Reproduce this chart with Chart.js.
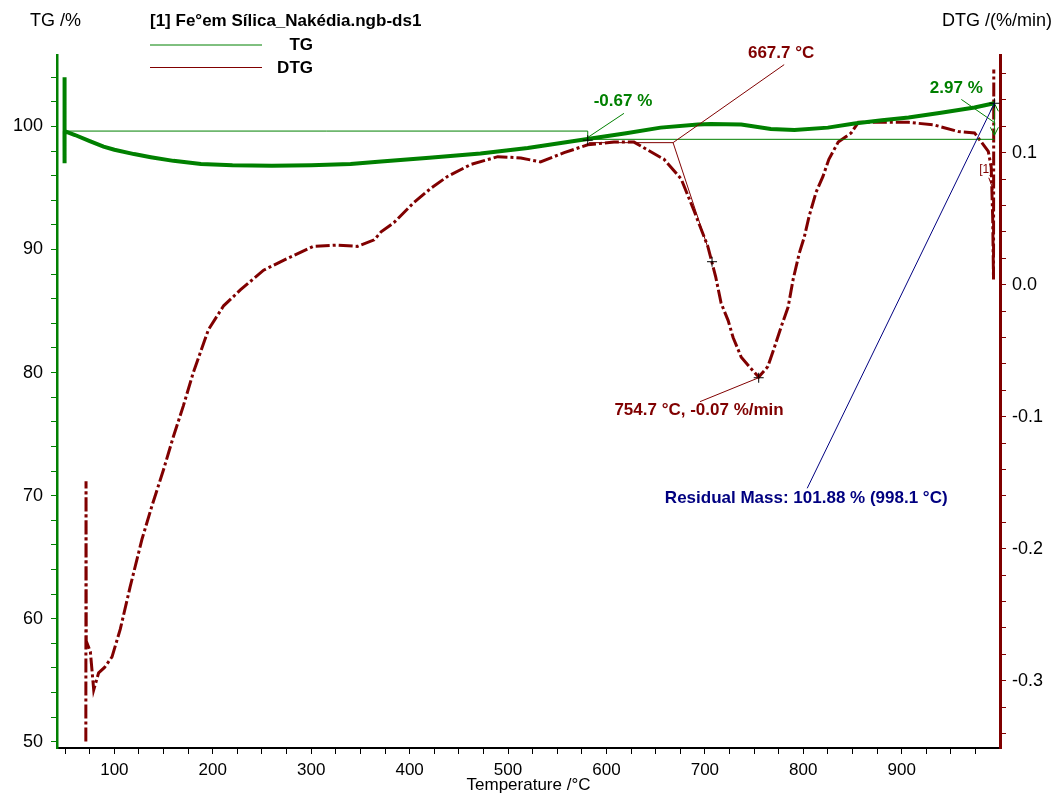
<!DOCTYPE html>
<html>
<head>
<meta charset="utf-8">
<script src="https://cdn.jsdelivr.net/npm/chart.js@4.4.1/dist/chart.umd.min.js"></script>
<style>
  html, body { margin: 0; padding: 0; background: #fff; }
</style>
</head>
<body>
<canvas id="tga" width="1063" height="796"></canvas>
<script>
// TG curve (left axis, %)
const tgTemp = [49.3, 49.3, 49.3, 49.6, 60, 75, 89, 100, 120, 137, 160, 188, 220, 260, 300, 340, 371, 420, 472, 520, 574, 620, 655, 693, 706, 737, 767, 791, 825, 852, 880, 907, 940, 974, 994];
const tgMass = [99.6, 104.0, 97.0, 99.62, 99.3, 98.8, 98.35, 98.1, 97.75, 97.5, 97.2, 96.95, 96.85, 96.8, 96.85, 96.95, 97.15, 97.45, 97.8, 98.25, 98.9, 99.45, 99.9, 100.16, 100.2, 100.15, 99.78, 99.7, 99.9, 100.24, 100.5, 100.73, 101.1, 101.54, 101.88];

// DTG curve (right axis, %/min)
const dtgTemp = [71.0, 71.2, 71.4, 75.6, 79, 84, 90, 97.6, 106, 116, 128, 138, 150, 160, 170, 180, 195.6, 211, 228, 251.6, 276, 302, 327, 347, 364, 371, 384, 404, 421.5, 438.5, 462, 489.6, 513, 533, 557, 581, 607.6, 628, 642, 658.5, 676, 689, 703, 711, 716.5, 723.6, 728.7, 737, 745, 754.7, 764, 770, 777.5, 784.6, 789.7, 796, 801, 806, 813, 820, 826, 835.5, 848.7, 856, 879, 907, 933, 957.6, 974, 981, 988, 991, 992.5, 993.3, 993.6];
const dtgRate = [-0.346, -0.149, -0.27, -0.278, -0.307, -0.294, -0.29, -0.282, -0.261, -0.229, -0.193, -0.168, -0.140, -0.115, -0.092, -0.067, -0.034, -0.016, -0.004, 0.011, 0.020, 0.029, 0.030, 0.029, 0.034, 0.040, 0.047, 0.062, 0.073, 0.082, 0.091, 0.097, 0.096, 0.093, 0.100, 0.106, 0.108, 0.108, 0.102, 0.095, 0.080, 0.056, 0.029, 0.006, -0.014, -0.027, -0.040, -0.055, -0.062, -0.070, -0.062, -0.049, -0.032, -0.017, 0.004, 0.024, 0.036, 0.052, 0.070, 0.082, 0.095, 0.108, 0.115, 0.123, 0.123, 0.123, 0.121, 0.116, 0.115, 0.108, 0.101, 0.089, 0.05, 0.004, 0.163];

// evaluation results shown on the plot
const stepOne = { from: 99.62, to: 98.95, at: 581, label: "-0.67 %" };
const stepTwo = { to: 101.88, at: 994.2, label: "2.97 %" };
const onsetLabel = "667.7 °C";
const peakLabel = "754.7 °C, -0.07 %/min";
const residualLabel = "Residual Mass: 101.88 % (998.1 °C)";

const GREEN = "#008000";
const RED = "#800000";
const NAVY = "#000080";
const FONT = "'Liberation Sans', Arial, sans-serif";

const pairs = (xs, ys) => xs.map((v, i) => ({ x: v, y: ys[i] }));

const notes = {
  id: "notes",
  afterDraw(chart) {
    const ctx = chart.ctx;
    const X = v => chart.scales.x.getPixelForValue(v);
    const L = v => chart.scales.yTG.getPixelForValue(v);
    const R = v => chart.scales.yDTG.getPixelForValue(v);

    const line = (pts, color, w) => {
      ctx.save();
      ctx.strokeStyle = color;
      ctx.lineWidth = w || 1;
      ctx.beginPath();
      pts.forEach((p, i) => i ? ctx.lineTo(p[0], p[1]) : ctx.moveTo(p[0], p[1]));
      ctx.stroke();
      ctx.restore();
    };
    const text = (s, px, py, color, font, align) => {
      ctx.save();
      ctx.fillStyle = color;
      ctx.font = font;
      ctx.textAlign = align || "center";
      ctx.textBaseline = "middle";
      ctx.fillText(s, px, py);
      ctx.restore();
    };
    const cross = (px, py) => {
      line([[px - 5, py], [px + 5, py]], "#000", 1);
      line([[px, py - 5], [px, py + 5]], "#000", 1);
    };
    const bold = "bold 17px " + FONT;

    // header, axis names and legend
    text("TG /%", 30, 21, "#000", "18px " + FONT, "left");
    text("DTG /(%/min)", 1052, 21, "#000", "18px " + FONT, "right");
    text("[1] Fe°em Sílica_Nakédia.ngb-ds1", 150, 21, "#000", bold, "left");
    line([[150, 45], [262, 45]], GREEN, 1);
    text("TG", 313, 45, "#000", bold, "right");
    line([[150, 67.5], [262, 67.5]], RED, 1);
    text("DTG", 313, 68, "#000", bold, "right");

    // TG step evaluation
    line([[X(49.6), L(stepOne.from)], [X(stepOne.at), L(stepOne.from)], [X(stepOne.at), L(99.1)]], GREEN, 1);
    line([[X(stepOne.at), L(stepOne.to)], [X(stepTwo.at), L(stepOne.to)]], GREEN, 1);
    line([[X(stepOne.at), L(99.1)], [X(617.8), L(101.06)]], GREEN, 1);
    text(stepOne.label, X(616.8), L(102.03), GREEN, bold);
    cross(X(stepOne.at), L(98.88));

    const ax = X(stepTwo.at), aTop = L(stepTwo.to), aBot = L(stepOne.to) - 4;
    line([[ax, aTop], [ax, aBot]], GREEN, 1);
    line([[ax - 4, aBot - 8], [ax, aBot], [ax + 4, aBot - 8]], GREEN, 1);
    line([[ax - 4, aTop + 8], [ax, aTop], [ax + 4, aTop + 8]], GREEN, 1);
    line([[X(960.6), L(102.19)], [X(994.2), L(100.32)]], GREEN, 1);
    text(stepTwo.label, X(955.5), L(103.09), GREEN, bold);
    cross(ax, aTop);

    // DTG onset and peak
    line([[X(582.2), R(0.1076)], [X(667.7), R(0.1076)], [X(702.2), R(0.030)]], RED, 1);
    line([[X(667.7), R(0.1076)], [X(780.6), R(0.1667)]], RED, 1);
    text(onsetLabel, X(777.5), R(0.1755), RED, bold);
    cross(X(707.3), R(0.0174));

    cross(X(754.7), R(-0.0705));
    line([[X(754.7), R(-0.0705)], [X(695.1), R(-0.0886)]], RED, 1);
    text(peakLabel, X(694.1), R(-0.0955), RED, bold);

    text("[1]", X(985.5), R(0.087), RED, "12px " + FONT);
    line([[X(988.5), R(0.081)], [X(993), R(0.072)]], RED, 1);

    // residual mass
    line([[ax, aTop], [X(804), L(70.6)]], NAVY, 1);
    text(residualLabel, X(803), L(69.78), NAVY, bold);
  }
};

new Chart(document.getElementById("tga"), {
  type: "line",
  data: {
    datasets: [
      {
        label: "TG",
        data: pairs(tgTemp, tgMass),
        yAxisID: "yTG",
        borderColor: GREEN,
        borderWidth: 4,
        pointRadius: 0,
        tension: 0
      },
      {
        label: "DTG",
        data: pairs(dtgTemp, dtgRate),
        yAxisID: "yDTG",
        borderColor: RED,
        borderWidth: 3,
        borderDash: [14, 3, 3, 3],
        pointRadius: 0,
        tension: 0
      }
    ]
  },
  options: {
    responsive: false,
    animation: false,
    layout: { padding: { top: 55, left: 0, right: 0, bottom: 0 } },
    plugins: { legend: { display: false }, tooltip: { enabled: false } },
    scales: {
      x: {
        type: "linear",
        min: 41.7,
        max: 999.9,
        border: { color: "#000", width: 2 },
        grid: { drawOnChartArea: false, tickLength: 6, tickColor: "#000" },
        ticks: {
          stepSize: 25,
          includeBounds: false,
          autoSkip: false,
          maxRotation: 0,
          padding: 6,
          color: "#000",
          font: { family: FONT, size: 17 },
          callback: v => (v % 100 === 0 ? String(v) : "")
        },
        title: {
          display: true,
          text: "Temperature /°C",
          color: "#000",
          padding: { top: 0, bottom: 0 },
          font: { family: FONT, size: 17 }
        },
        afterFit: s => { s.height = 48; }
      },
      yTG: {
        type: "linear",
        position: "left",
        min: 49.5,
        max: 105.8,
        border: { color: GREEN, width: 2.5 },
        grid: { drawOnChartArea: false, tickLength: 6, tickColor: GREEN },
        ticks: {
          stepSize: 2,
          includeBounds: false,
          autoSkip: false,
          padding: 8,
          color: "#000",
          font: { family: FONT, size: 18 },
          callback: v => (Math.round(v) % 10 === 0 ? String(v) : "")
        },
        afterFit: s => { s.width = 57; }
      },
      yDTG: {
        type: "linear",
        position: "right",
        min: -0.351,
        max: 0.174,
        border: { color: RED, width: 3 },
        grid: { drawOnChartArea: false, tickLength: 6, tickColor: RED },
        ticks: {
          stepSize: 0.02,
          includeBounds: false,
          autoSkip: false,
          padding: 6,
          color: "#000",
          font: { family: FONT, size: 18 },
          callback: v => (Math.abs(Math.round(v * 100)) % 10 === 0 ? v.toFixed(1) : "")
        },
        afterFit: s => { s.width = 63; }
      }
    }
  },
  plugins: [notes]
});
</script>
</body>
</html>
